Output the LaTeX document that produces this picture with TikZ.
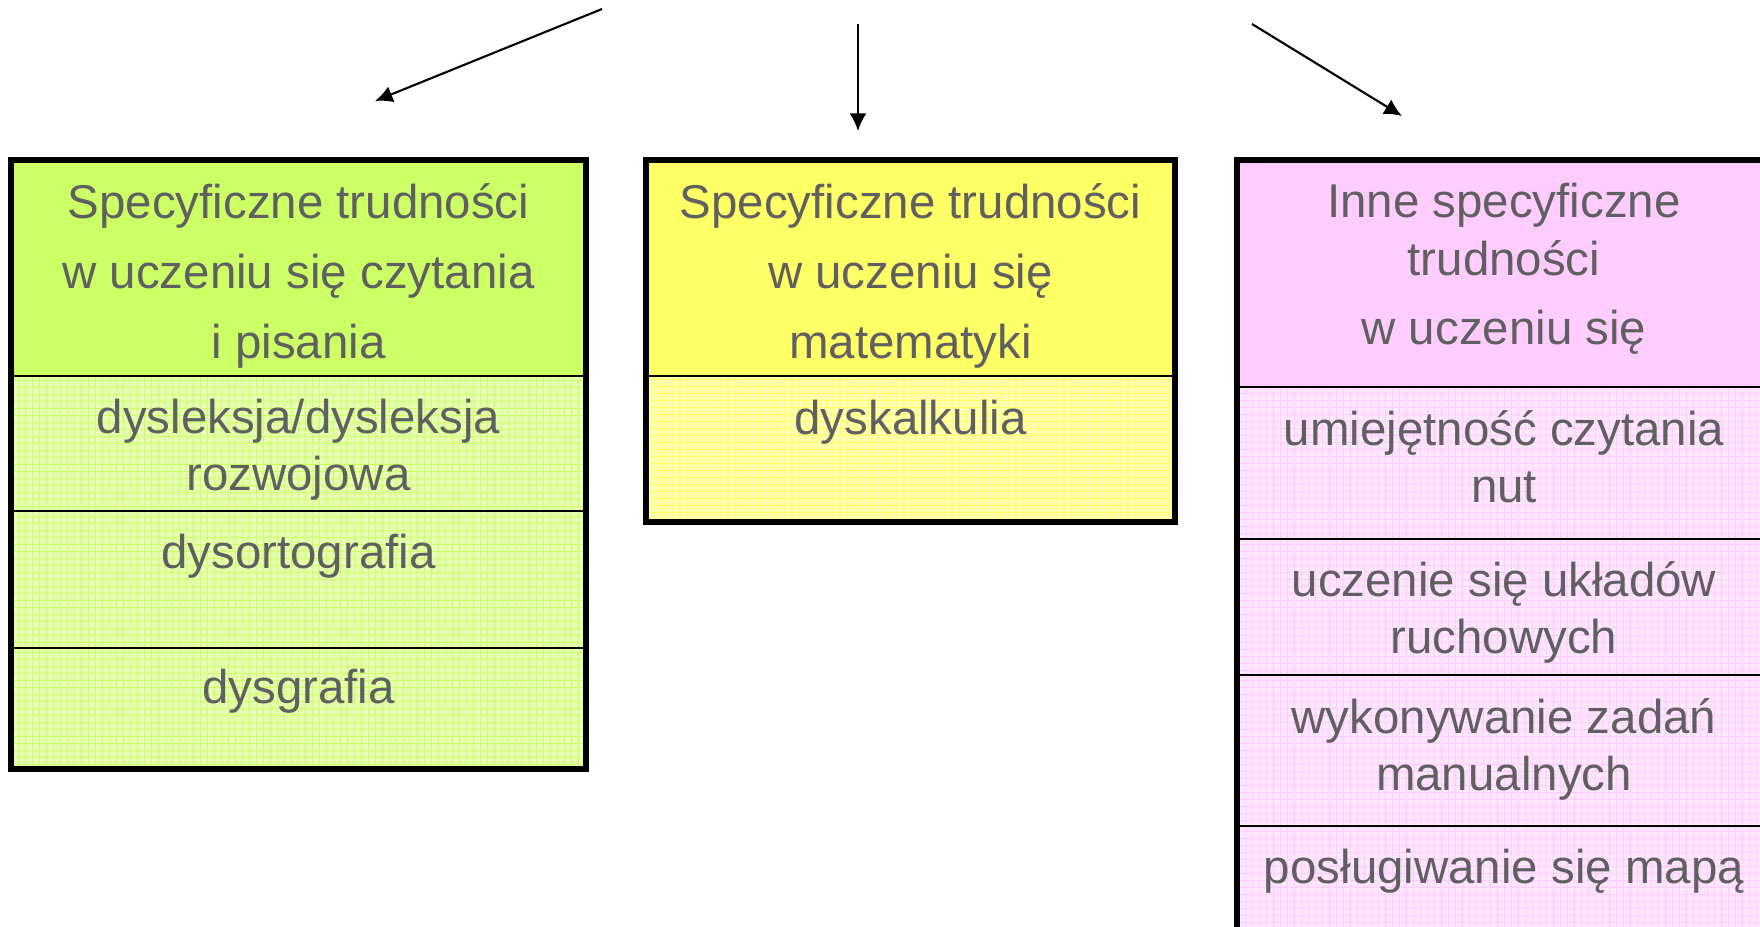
\documentclass[tikz,border=0pt]{standalone}
\usepackage{fontspec}
\setmainfont{Liberation Sans}
\usepackage{tikz}
\usetikzlibrary{positioning}
\usetikzlibrary{arrows.meta}
\usepackage{color}
\definecolor{limehead}{RGB}{204, 255, 102}
\definecolor{limecell}{RGB}{230, 255, 178}
\definecolor{lemonhead}{RGB}{255, 255, 102}
\definecolor{lemoncell}{RGB}{255, 255, 178}
\definecolor{orchidhead}{RGB}{255, 204, 255}
\definecolor{orchidcell}{RGB}{255, 230, 255}
\definecolor{slatetext}{RGB}{96, 96, 96}

\tikzset{
  cell/.style={draw=black, line width=0.7pt, inner sep=0pt, outer sep=0pt},
  celltext/.style={inner sep=0pt, align=center, text=slatetext, font=\fontsize{13.5}{16.2}\selectfont},
  headtext/.style={celltext, font=\fontsize{13.5}{19.9}\selectfont},
  hatch/.style={path picture={\draw[#1, line width=0.25pt, step=0.07]
               (path picture bounding box.south west) grid (path picture bounding box.north east);}},
  frame/.style={line width=1.8pt},
  pointer/.style={line width=0.6pt, -{Latex[length=5pt, width=4.8pt]}}
}

\begin{document}
\begin{tikzpicture}
            \useasboundingbox (0,0) rectangle (17.60,-9.27);
            \clip (0,0) rectangle (17.60,-9.27);
            % Arrows
            \coordinate (fromleft)  at ( 6.02,-0.09);
            \coordinate (toleft)    at ( 3.75,-1.01);
            \coordinate (frommid)   at ( 8.58,-0.24);
            \coordinate (tomid)     at ( 8.58,-1.31);
            \coordinate (fromright) at (12.52,-0.24);
            \coordinate (toright)   at (14.02,-1.16);
            \draw[pointer] (fromleft)  -- (toleft);
            \draw[pointer] (frommid)   -- (tomid);
            \draw[pointer] (fromright) -- (toright);
            % Reading and writing
            \node[cell, fill=limehead, minimum width=5.75cm, minimum height=2.16cm, anchor=north west] (readhead) at (0.11,-1.60) {};
            \node[cell, fill=limecell, hatch=limehead, minimum width=5.75cm, minimum height=1.35cm, below=0pt of readhead] (dyslexia) {};
            \node[cell, fill=limecell, hatch=limehead, minimum width=5.75cm, minimum height=1.37cm, below=0pt of dyslexia] (dysortho) {};
            \node[cell, fill=limecell, hatch=limehead, minimum width=5.75cm, minimum height=1.21cm, below=0pt of dysortho] (dysgraph) {};
            \draw[frame] (readhead.north west) rectangle (dysgraph.south east);
            \node[headtext, yshift=-0.08cm] (readheadlabel) at (readhead) {Specyficzne trudności\\w uczeniu się czytania\\i pisania};
            \node[celltext, yshift=-0.06cm] (dyslexialabel) at (dyslexia) {dysleksja/dysleksja\\rozwojowa};
            \node[celltext]                 (dysortholabel) at (dysortho) {dysortografia\\~};
            \node[celltext, yshift=-0.06cm] (dysgraphlabel) at (dysgraph) {dysgrafia\\~};
            % Mathematics
            \node[cell, fill=lemonhead, minimum width=5.29cm, minimum height=2.16cm, anchor=north west] (mathhead) at (6.46,-1.60) {};
            \node[cell, fill=lemoncell, hatch=lemonhead, minimum width=5.29cm, minimum height=1.46cm, below=0pt of mathhead] (dyscalc) {};
            \draw[frame] (mathhead.north west) rectangle (dyscalc.south east);
            \node[headtext, yshift=-0.08cm] (mathheadlabel) at (mathhead) {Specyficzne trudności\\w uczeniu się\\matematyki};
            \node[celltext, yshift=0.035cm] (dyscalclabel)  at (dyscalc)  {dyskalkulia\\~};
            % Other difficulties
            \node[cell, fill=orchidhead, minimum width=5.34cm, minimum height=2.27cm, anchor=north west] (otherhead) at (12.37,-1.60) {};
            \node[cell, fill=orchidcell, hatch=orchidhead, minimum width=5.34cm, minimum height=1.52cm, below=0pt of otherhead] (notes) {};
            \node[cell, fill=orchidcell, hatch=orchidhead, minimum width=5.34cm, minimum height=1.36cm, below=0pt of notes] (motion) {};
            \node[cell, fill=orchidcell, hatch=orchidhead, minimum width=5.34cm, minimum height=1.51cm, below=0pt of motion] (manual) {};
            \node[cell, fill=orchidcell, hatch=orchidhead, minimum width=5.34cm, minimum height=1.50cm, below=0pt of manual] (maps) {};
            \draw[frame] (otherhead.north west) rectangle (maps.south east);
            \node[celltext, font=\fontsize{13.5}{16.5}\selectfont, yshift=0.045cm] (otherheadlabel) at (otherhead) {Inne specyficzne\\trudności\\[3pt]w uczeniu się};
            \node[celltext, yshift=0.065cm]  (noteslabel)  at (notes)  {umiejętność czytania\\nut};
            \node[celltext, yshift=-0.055cm] (motionlabel) at (motion) {uczenie się układów\\ruchowych};
            \node[celltext, yshift=0.015cm]  (manuallabel) at (manual) {wykonywanie zadań\\manualnych};
            \node[celltext, yshift=0.065cm]  (mapslabel)   at (maps)   {posługiwanie się mapą\\~};
\end{tikzpicture}
\end{document}
